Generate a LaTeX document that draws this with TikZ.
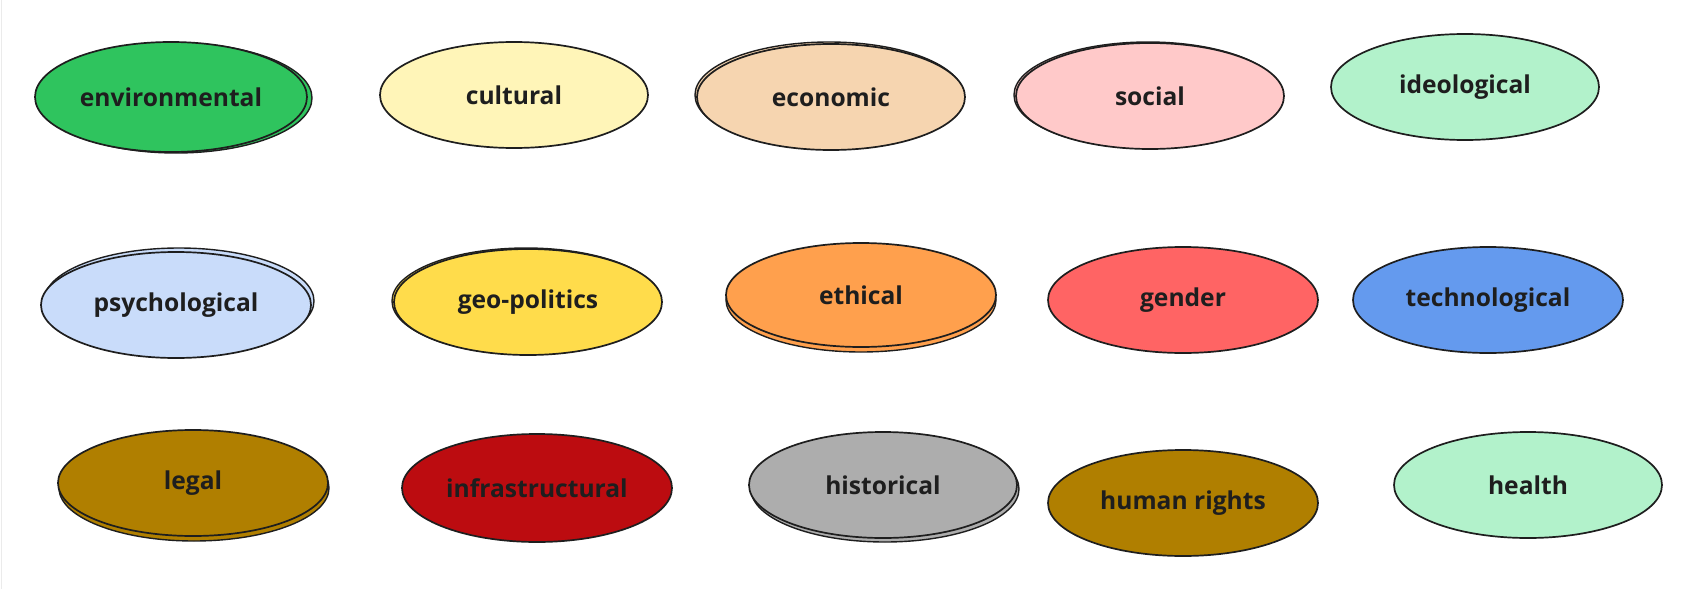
\documentclass[tikz,border=0pt]{standalone}
\usepackage{fontspec}
\setmainfont{Open Sans}
\usetikzlibrary{shapes.geometric}
\definecolor{ink}{HTML}{1E1E1E}
\definecolor{cEnv}{HTML}{2FC45E}
\definecolor{cCult}{HTML}{FFF5B8}
\definecolor{cEco}{HTML}{F6D5B0}
\definecolor{cSoc}{HTML}{FFC9C9}
\definecolor{cIdeo}{HTML}{B2F2CB}
\definecolor{cPsy}{HTML}{C9DCFA}
\definecolor{cGeo}{HTML}{FFDC4B}
\definecolor{cEth}{HTML}{FFA04D}
\definecolor{cGen}{HTML}{FF6464}
\definecolor{cTech}{HTML}{649AEE}
\definecolor{cLegal}{HTML}{B07F00}
\definecolor{cInfra}{HTML}{BC0C10}
\definecolor{cHist}{HTML}{ADADAD}
\definecolor{cHealth}{HTML}{B2F2CB}
\tikzset{
  blob/.style={ellipse, draw=ink, line width=1.7pt, inner sep=0pt,
    text=ink, font=\fontsize{24.6}{28}\selectfont\bfseries},
  ghost/.style={draw=ink, line width=1.4pt}
}
\begin{document}
\begin{tikzpicture}[x=1pt,y=-1pt]
\useasboundingbox[fill=white] (0,0) rectangle (1695,589);
\draw[black!8, line width=1pt] (1.5,0) -- (1.5,589);
% ghost outlines (hand-drawn double strokes)
\draw[ghost, fill=cEnv] (176,98) ellipse (136 and 55);
\draw[ghost, fill=cEco] (829,95) ellipse (134 and 53);
\draw[ghost, fill=cSoc] (1148,95) ellipse (134 and 53);
\draw[ghost, fill=cPsy] (179,301) ellipse (135 and 53);
\draw[ghost, fill=cGeo] (526,301) ellipse (134 and 53);
\draw[ghost, fill=cEth] (861,300) ellipse (135 and 52);
\draw[ghost, fill=cLegal] (194,488) ellipse (135 and 53);
\draw[ghost, fill=cHist] (885,489) ellipse (134 and 53);
% row 1
\node[blob, fill=cEnv, minimum width=272pt, minimum height=110pt] (env) at (171,97) {environmental};
\node[blob, fill=cCult, minimum width=268pt, minimum height=106pt] (cult) at (514,95) {cultural};
\node[blob, fill=cEco, minimum width=268pt, minimum height=106pt] (eco) at (831,97) {economic};
\node[blob, fill=cSoc, minimum width=268pt, minimum height=106pt] (soc) at (1150,96) {social};
\node[blob, fill=cIdeo, minimum width=268pt, minimum height=106pt] (ideo) at (1465,87) {ideological};
% row 2
\node[blob, fill=cPsy, minimum width=270pt, minimum height=106pt] (psy) at (176,305) {psychological};
\node[blob, fill=cGeo, minimum width=268pt, minimum height=106pt] (geo) at (528,302) {geo-politics};
\node[blob, fill=cEth, minimum width=270pt, minimum height=104pt] (eth) at (861,295) {ethical};
\node[blob, fill=cGen, minimum width=270pt, minimum height=106pt] (gen) at (1183,300) {gender};
\node[blob, fill=cTech, minimum width=270pt, minimum height=106pt] (tech) at (1488,300) {technological};
% row 3
\node[blob, fill=cLegal, minimum width=270pt, minimum height=106pt] (legal) at (193,483) {legal};
\node[blob, fill=cInfra, minimum width=270pt, minimum height=108pt] (infra) at (537,488) {infrastructural};
\node[blob, fill=cHist, minimum width=268pt, minimum height=106pt] (hist) at (883,485) {historical};
\node[blob, fill=cLegal, minimum width=270pt, minimum height=106pt] (hr) at (1183,503) {human rights};
\node[blob, fill=cHealth, minimum width=268pt, minimum height=106pt] (health) at (1528,485) {health};
\end{tikzpicture}
\end{document}
